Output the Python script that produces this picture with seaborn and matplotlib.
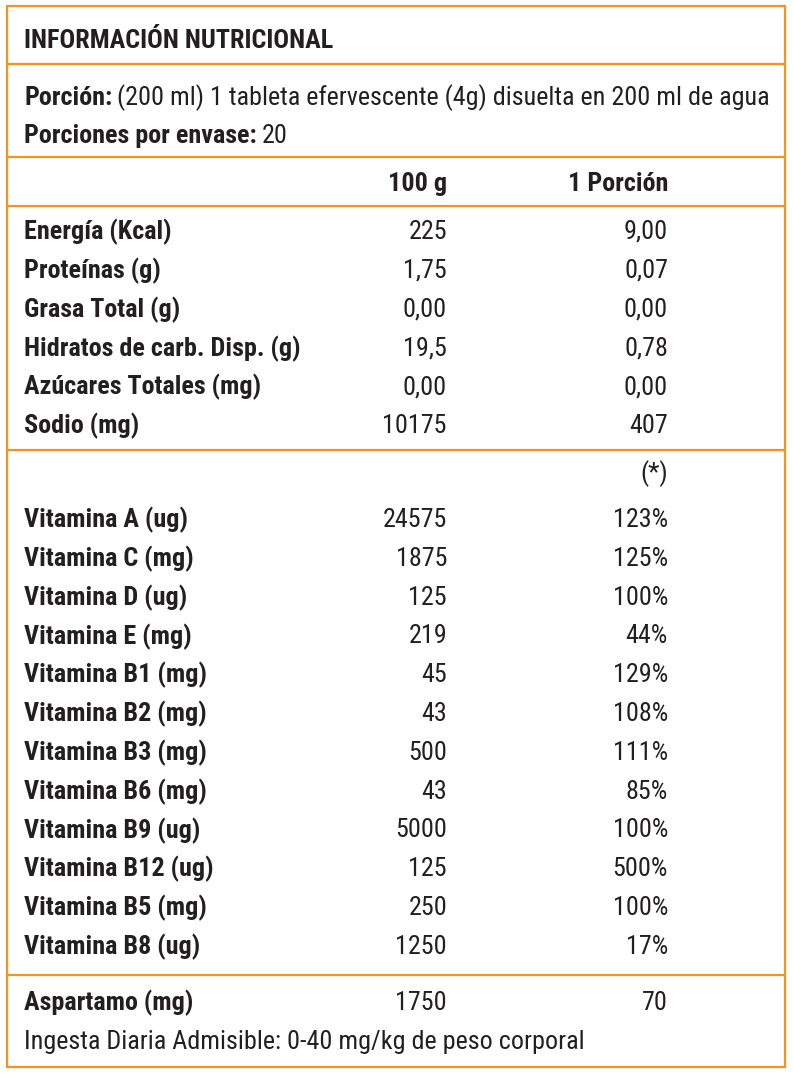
import matplotlib
matplotlib.use("Agg")
import matplotlib.pyplot as plt
import seaborn as sns

# data
title = "INFORMACIÓN NUTRICIONAL"
serving_label = "Porción:"
serving_text = "(200 ml) 1 tableta efervescente (4g) disuelta en 200 ml de agua"
per_pack_label = "Porciones por envase:"
per_pack_text = "20"
col_headers = ["100 g", "1 Porción"]

macro_names = ["Energía (Kcal)", "Proteínas (g)", "Grasa Total (g)",
               "Hidratos de carb. Disp. (g)", "Azúcares Totales (mg)", "Sodio (mg)"]
macro_100g = ["225", "1,75", "0,00", "19,5", "0,00", "10175"]
macro_portion = ["9,00", "0,07", "0,00", "0,78", "0,00", "407"]

vit_names = ["Vitamina A (ug)", "Vitamina C (mg)", "Vitamina D (ug)", "Vitamina E (mg)",
             "Vitamina B1 (mg)", "Vitamina B2 (mg)", "Vitamina B3 (mg)", "Vitamina B6 (mg)",
             "Vitamina B9 (ug)", "Vitamina B12 (ug)", "Vitamina B5 (mg)", "Vitamina B8 (ug)"]
vit_100g = ["24575", "1875", "125", "219", "45", "43", "500", "43", "5000", "125", "250", "1250"]
vit_portion = ["123%", "125%", "100%", "44%", "129%", "108%", "111%", "85%",
               "100%", "500%", "100%", "17%"]

sweet_name = "Aspartamo (mg)"
sweet_100g = "1750"
sweet_portion = "70"
footnote = "Ingesta Diaria Admisible: 0-40 mg/kg de peso corporal"

ORANGE = "#F7931C"
INK = "#231F20"

sns.set_theme(style="white")
# condensed face, falls back to DejaVu if missing
plt.rcParams["font.family"] = ["Roboto Condensed", "DejaVu Sans"]
plt.rcParams["font.stretch"] = "condensed"

W, H = 793, 1074
fig = plt.figure(figsize=(W / 100, H / 100), dpi=100)
ax = fig.add_axes([0, 0, 1, 1])
ax.set_xlim(0, W)
ax.set_ylim(H, 0)
ax.axis("off")

FS = 18.8
X_LABEL, X_COL1, X_COL2 = 24, 447, 668
ROW_STEP = 38.8
DY = 1  # small nudge down


def txt(x, y, s, bold=False, ha="left", size=FS):
    return ax.text(x, y + DY, s, ha=ha, va="center", fontsize=size, color=INK,
                   fontweight="bold" if bold else "normal")


def mixed(x, y, bold_part, normal_part):
    t = txt(x, y, bold_part, bold=True)
    renderer = fig.canvas.get_renderer()
    bb = t.get_window_extent(renderer=renderer)
    x_end = ax.transData.inverted().transform((bb.x1, bb.y0))[0]
    txt(x_end + 5, y, normal_part)


# frame and rules
left, right, top, bottom = 7, 785, 6, 1067
ax.plot([left, right, right, left, left], [top, top, bottom, bottom, top],
        color=ORANGE, lw=1.6, solid_joinstyle="miter")
for yy in [64, 157, 206, 450, 975]:
    ax.plot([left, right], [yy, yy], color=ORANGE, lw=1.6)

txt(X_LABEL, 40, title, bold=True)
mixed(X_LABEL, 97, serving_label, serving_text)
mixed(X_LABEL, 135, per_pack_label, per_pack_text)
txt(X_COL1, 183, col_headers[0], bold=True, ha="right")
txt(X_COL2, 183, col_headers[1], bold=True, ha="right")

for i, (n, a, b) in enumerate(zip(macro_names, macro_100g, macro_portion)):
    y = 231 + i * ROW_STEP
    txt(X_LABEL, y, n, bold=True)
    txt(X_COL1, y, a, ha="right")
    txt(X_COL2, y, b, ha="right")

txt(X_COL2, 473, "(*)", ha="right")

for i, (n, a, b) in enumerate(zip(vit_names, vit_100g, vit_portion)):
    y = 519 + i * ROW_STEP
    txt(X_LABEL, y, n, bold=True)
    txt(X_COL1, y, a, ha="right")
    txt(X_COL2, y, b, ha="right")

txt(X_LABEL, 1002, sweet_name, bold=True)
txt(X_COL1, 1002, sweet_100g, ha="right")
txt(X_COL2, 1002, sweet_portion, ha="right")
txt(X_LABEL, 1041, footnote)

fig.savefig("out.png", dpi=100, facecolor="white")
